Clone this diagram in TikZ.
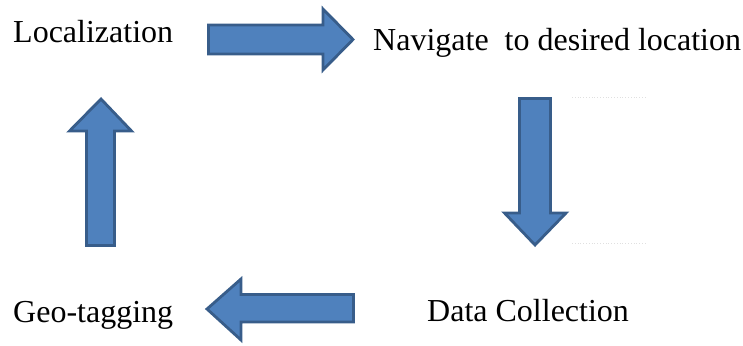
\documentclass[tikz,border=0pt]{standalone}
\usepackage{fontspec}
\setmainfont{Liberation Serif}
\definecolor{arrowfill}{HTML}{4F81BD}
\definecolor{arrowedge}{HTML}{385D8A}
\begin{document}
\begin{tikzpicture}[x=1pt,y=-1pt,
  blockarrow/.style={fill=arrowfill,draw=arrowedge,line width=2.8pt,line join=miter},
  label/.style={anchor=base west,inner sep=0pt,font=\fontsize{32}{37}\selectfont},
  guide/.style={draw=black!12,dotted,line width=0.8pt}]
\useasboundingbox (0,0) rectangle (743,345);

% stage labels
\node[label] (loc) at (13,42) {Localization};
\node[label] (nav) at (373,50) {Navigate\ \ to desired location};
\node[label] (geo) at (13,322) {Geo-tagging};
\node[label] (data) at (427,321) {Data Collection};

% block arrows between the stages
\draw[blockarrow] (208.5,25) -- (323,25) -- (323,9) -- (353,39.5) -- (323,70) -- (323,54) -- (208.5,54) -- cycle;
\draw[blockarrow] (519.5,98.5) -- (550.5,98.5) -- (550.5,213) -- (566,213) -- (535,245) -- (504.5,213) -- (519.5,213) -- cycle;
\draw[blockarrow] (353.5,294.5) -- (241,294.5) -- (241,279) -- (207,309) -- (241,340) -- (241,322) -- (353.5,322) -- cycle;
\draw[blockarrow] (86.5,245.5) -- (114.5,245.5) -- (114.5,131) -- (131.5,131) -- (101,99) -- (69.5,131) -- (86.5,131) -- cycle;

% faint guide marks beside the downward arrow
\draw[guide] (572,97) -- (645,97);
\draw[guide] (572,243) -- (645,243);
\end{tikzpicture}
\end{document}
